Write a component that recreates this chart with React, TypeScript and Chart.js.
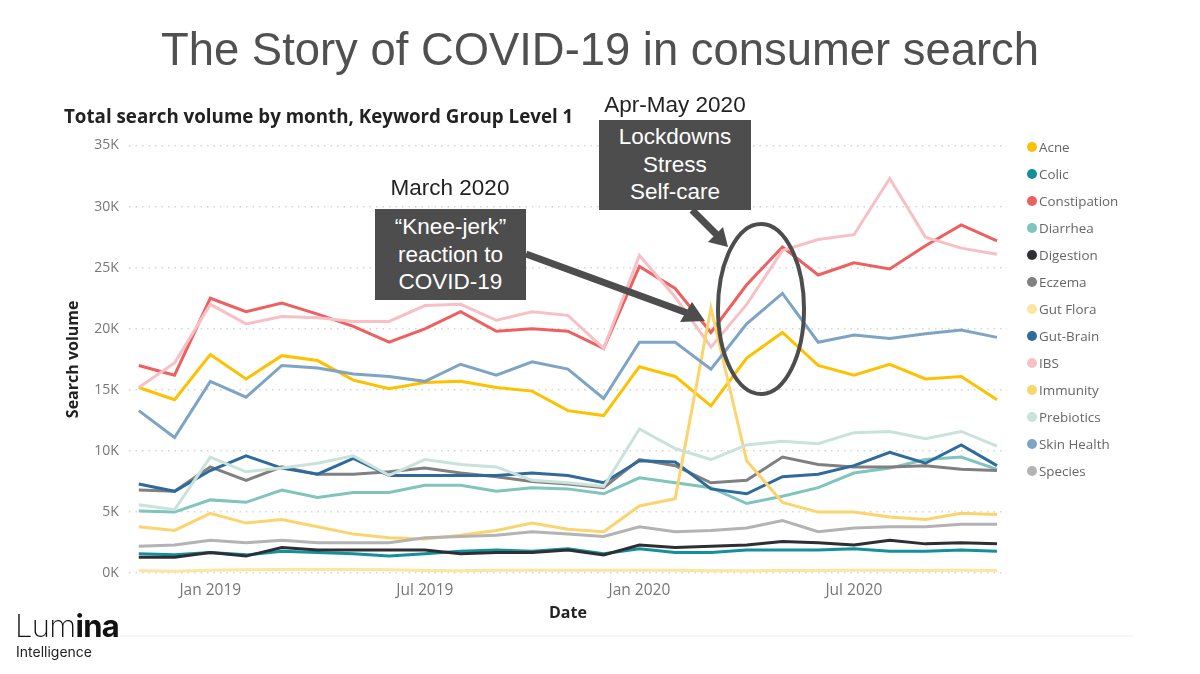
import { useEffect, useRef } from "react"
import { Chart, registerables } from "chart.js"

Chart.register(...registerables)

const months = [
  "Nov 2018", "Dec 2018", "Jan 2019", "Feb 2019", "Mar 2019", "Apr 2019", "May 2019", "Jun 2019", "Jul 2019",
  "Aug 2019", "Sep 2019", "Oct 2019", "Nov 2019", "Dec 2019", "Jan 2020", "Feb 2020", "Mar 2020", "Apr 2020",
  "May 2020", "Jun 2020", "Jul 2020", "Aug 2020", "Sep 2020", "Oct 2020", "Nov 2020",
]
const labelledMonths = ["Jan 2019", "Jul 2019", "Jan 2020", "Jul 2020"]
const yTicks = [0, 5, 10, 15, 20, 25, 30, 35]

const acne = [15.2, 14.2, 17.9, 15.9, 17.8, 17.4, 15.8, 15.1, 15.6, 15.7, 15.2, 14.9, 13.3, 12.9, 16.9, 16.1, 13.7, 17.6, 19.7, 17.0, 16.2, 17.1, 15.9, 16.1, 14.2]
const colic = [1.6, 1.5, 1.7, 1.5, 1.8, 1.7, 1.6, 1.4, 1.6, 1.8, 1.9, 1.8, 2.0, 1.6, 2.0, 1.7, 1.7, 1.9, 1.9, 1.9, 2.0, 1.8, 1.8, 1.9, 1.8]
const constipation = [17.0, 16.2, 22.5, 21.4, 22.1, 21.2, 20.2, 18.9, 20.0, 21.4, 19.8, 20.0, 19.8, 18.4, 25.1, 23.3, 19.7, 23.6, 26.7, 24.4, 25.4, 24.9, 26.8, 28.5, 27.2]
const diarrhea = [5.1, 5.0, 6.0, 5.8, 6.8, 6.2, 6.6, 6.6, 7.2, 7.2, 6.7, 7.0, 6.9, 6.5, 7.8, 7.4, 7.0, 5.7, 6.3, 7.0, 8.2, 8.6, 9.3, 9.5, 8.5]
const digestion = [1.3, 1.3, 1.7, 1.4, 2.1, 1.9, 1.9, 1.9, 1.9, 1.6, 1.7, 1.7, 1.9, 1.5, 2.3, 2.1, 2.2, 2.3, 2.6, 2.5, 2.3, 2.7, 2.4, 2.5, 2.4]
const eczema = [6.8, 6.7, 8.7, 7.6, 8.7, 8.1, 8.1, 8.3, 8.6, 8.2, 7.9, 7.5, 7.3, 7.0, 9.3, 8.8, 7.4, 7.6, 9.5, 8.9, 8.7, 8.7, 8.8, 8.5, 8.4]
const gutFlora = [0.2, 0.15, 0.25, 0.28, 0.3, 0.3, 0.3, 0.28, 0.22, 0.2, 0.25, 0.25, 0.25, 0.25, 0.25, 0.25, 0.2, 0.2, 0.22, 0.22, 0.25, 0.25, 0.22, 0.25, 0.22]
const gutBrain = [7.3, 6.7, 8.4, 9.6, 8.6, 8.1, 9.4, 8.0, 8.0, 8.0, 8.0, 8.2, 8.0, 7.4, 9.2, 9.1, 6.9, 6.5, 7.9, 8.1, 8.8, 9.9, 9.0, 10.5, 8.8]
const ibs = [15.2, 17.2, 22.0, 20.4, 21.0, 20.9, 20.6, 20.6, 21.9, 22.0, 20.7, 21.4, 21.1, 18.4, 26.0, 22.6, 18.5, 22.0, 26.4, 27.3, 27.7, 32.3, 27.5, 26.6, 26.1]
const immunity = [3.8, 3.5, 4.9, 4.1, 4.4, 3.8, 3.2, 2.9, 2.8, 3.1, 3.5, 4.1, 3.6, 3.4, 5.5, 6.1, 21.7, 9.2, 5.8, 5.0, 5.0, 4.6, 4.4, 4.9, 4.8]
const prebiotics = [5.6, 5.2, 9.5, 8.3, 8.6, 9.0, 9.6, 8.0, 9.3, 8.9, 8.7, 7.6, 7.4, 7.1, 11.8, 10.2, 9.3, 10.5, 10.8, 10.6, 11.5, 11.6, 11.0, 11.6, 10.4]
const skinHealth = [13.3, 11.1, 15.7, 14.4, 17.0, 16.8, 16.3, 16.1, 15.7, 17.1, 16.2, 17.3, 16.7, 14.3, 18.9, 18.9, 16.7, 20.4, 22.9, 18.9, 19.5, 19.2, 19.6, 19.9, 19.3]
const species = [2.2, 2.3, 2.7, 2.5, 2.7, 2.5, 2.5, 2.5, 2.9, 3.0, 3.1, 3.4, 3.2, 3.0, 3.8, 3.4, 3.5, 3.7, 4.3, 3.4, 3.7, 3.8, 3.8, 4.0, 4.0]

const series = [
  { label: "Acne", values: acne, color: "#FDC100" },
  { label: "Colic", values: colic, color: "#13909B" },
  { label: "Constipation", values: constipation, color: "#EE5F5F" },
  { label: "Diarrhea", values: diarrhea, color: "#7FC4BD" },
  { label: "Digestion", values: digestion, color: "#2F2F33" },
  { label: "Eczema", values: eczema, color: "#808080" },
  { label: "Gut Flora", values: gutFlora, color: "#FCE59E" },
  { label: "Gut-Brain", values: gutBrain, color: "#2F6A9C" },
  { label: "IBS", values: ibs, color: "#F8C0C6" },
  { label: "Immunity", values: immunity, color: "#FBD46E" },
  { label: "Prebiotics", values: prebiotics, color: "#C9E2DB" },
  { label: "Skin Health", values: skinHealth, color: "#7EA4C5" },
  { label: "Species", values: species, color: "#B3B3B3" },
]

const DARK = "#4D4D4D"
const UI_FONT = "'Open Sans', sans-serif"
const SLIDE_FONT = "'Liberation Sans', Arial, sans-serif"

function textAt(left: number, top: number, width: number): React.CSSProperties {
  return { position: "absolute", left, top, width, textAlign: "center", fontFamily: SLIDE_FONT }
}

export default function App() {
  const chartRef = useRef<HTMLCanvasElement>(null)

  useEffect(() => {
    if (!chartRef.current) return
    const chart = new Chart(chartRef.current, {
      type: "line",
      data: {
        datasets: series.map((s, i) => ({
          label: s.label,
          data: s.values.map((y, x) => ({ x, y })),
          borderColor: s.color,
          backgroundColor: s.color,
          borderWidth: 3,
          pointRadius: 0,
          tension: 0,
          order: -i,
        })),
      },
      options: {
        responsive: false,
        animation: false,
        layout: { padding: { left: 64, right: 193, top: 100, bottom: 51 } },
        plugins: {
          title: {
            display: true,
            text: "Total search volume by month, Keyword Group Level 1",
            align: "start",
            color: "#222",
            font: { family: UI_FONT, size: 18.75, weight: "bold" },
            padding: { top: 6, bottom: 17 },
          },
          legend: { display: false },
          tooltip: { enabled: false },
        },
        scales: {
          x: {
            type: "linear",
            min: -0.28,
            max: 24.28,
            afterBuildTicks: (axis) => {
              axis.ticks = labelledMonths.map((m) => ({ value: months.indexOf(m) }))
            },
            ticks: {
              callback: (value) => months[Number(value)],
              color: "#777",
              font: { family: UI_FONT, size: 15.5 },
              padding: 0,
              maxRotation: 0,
              autoSkip: false,
            },
            grid: { display: false },
            border: { display: false },
            title: {
              display: true,
              text: "Date",
              color: "#222",
              font: { family: UI_FONT, size: 16, weight: "bold" },
              padding: { top: 4, bottom: 0 },
            },
          },
          y: {
            min: 0,
            max: 35,
            afterBuildTicks: (axis) => {
              axis.ticks = yTicks.map((value) => ({ value }))
            },
            ticks: {
              callback: (value) => `${value}K`,
              color: "#777",
              font: { family: UI_FONT, size: 14 },
              padding: 10,
            },
            grid: { color: "#D5D5D5", lineWidth: 1.5, tickLength: 0 },
            border: { display: false, dash: [1.5, 5] },
            title: {
              display: true,
              text: "Search volume",
              color: "#222",
              font: { family: UI_FONT, size: 16, weight: "bold" },
              padding: { top: 0, bottom: 1 },
            },
          },
        },
      },
    })
    return () => chart.destroy()
  }, [])

  return (
    <div style={{ position: "fixed", left: 0, top: 0, width: 1200, height: 674, background: "#fff", overflow: "hidden" }}>
      <canvas ref={chartRef} width={1200} height={674} style={{ position: "absolute", left: 0, top: 0 }} />

      <div style={{ ...textAt(0, 24, 1200), fontSize: 45.4, color: "#505050" }}>The Story of COVID-19 in consumer search</div>

      {/* legend */}
      <div style={{ position: "absolute", left: 1027, top: 133, fontFamily: UI_FONT, fontSize: 13.4, color: "#666" }}>
        {series.map((s) => (
          <div key={s.label} style={{ display: "flex", alignItems: "center", height: 27.08 }}>
            <span style={{ width: 10, height: 10, borderRadius: "50%", background: s.color, marginRight: 2 }} />
            {s.label}
          </div>
        ))}
      </div>

      {/* callouts */}
      <div style={{ ...textAt(350, 175, 200), fontSize: 22.5, color: "#222" }}>March 2020</div>
      <div style={{ ...textAt(375, 209, 151), height: 91, background: DARK, color: "#fff", fontSize: 22.5, lineHeight: "27.5px", paddingTop: 4, boxSizing: "border-box" }}>
        “Knee-jerk”<br />reaction to<br />COVID-19
      </div>
      <div style={{ ...textAt(575, 92, 200), fontSize: 22.5, color: "#222" }}>Apr-May 2020</div>
      <div style={{ ...textAt(599, 120, 152), height: 90, background: DARK, color: "#fff", fontSize: 22.5, lineHeight: "27.5px", paddingTop: 3, boxSizing: "border-box" }}>
        Lockdowns<br />Stress<br />Self-care
      </div>

      <svg width={1200} height={674} style={{ position: "absolute", left: 0, top: 0 }}>
        <line x1={526} y1={254} x2={690} y2={314} stroke={DARK} strokeWidth={7} />
        <polygon points="705,321 680,322 692,302" fill={DARK} />
        <line x1={692} y1={210} x2={718} y2={236} stroke={DARK} strokeWidth={7} />
        <polygon points="728,247 708,242 723,227" fill={DARK} />
        <ellipse cx={761} cy={309} rx={43} ry={85} fill="none" stroke={DARK} strokeWidth={4} />
        <line x1={118} y1={636} x2={1133} y2={636} stroke="#EEE" strokeWidth={1} />
      </svg>

      {/* logo */}
      <div style={{ position: "absolute", left: 15, top: 606, fontFamily: "Inter, sans-serif", fontSize: 31, lineHeight: "40px", color: "#111", letterSpacing: -0.7 }}>
        <span style={{ fontWeight: 200 }}>Lum</span>
        <span style={{ fontWeight: 700 }}>ina</span>
      </div>
      <div style={{ position: "absolute", left: 16, top: 643, fontFamily: "Inter, sans-serif", fontSize: 14, color: "#222" }}>Intelligence</div>
    </div>
  )
}
